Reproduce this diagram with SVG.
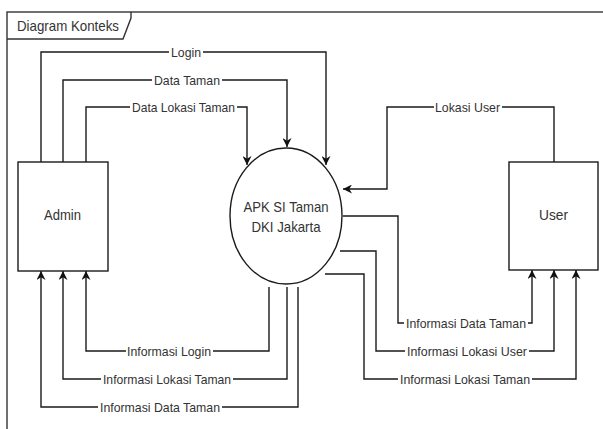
<svg xmlns="http://www.w3.org/2000/svg" width="603" height="429" viewBox="0 0 603 429">
<style>
.ln{fill:none;stroke:#1a1a1a;stroke-width:1.4}
.bx{fill:#fff;stroke:#1a1a1a;stroke-width:1.4}
.t{font-family:"Liberation Sans",Arial,sans-serif;fill:#333;text-anchor:middle}
.lb{font-size:13px}
.nd{font-size:15px}
.bg{fill:#fff}
</style>
<defs>
<marker id="ah" viewBox="0 0 10 10" refX="10" refY="5" markerWidth="10" markerHeight="9" markerUnits="userSpaceOnUse" orient="auto">
<path d="M0,0 L10,5 L0,10 L3,5 Z" fill="#111"/>
</marker>
</defs>
<rect width="603" height="429" fill="#fff"/>
<g id="frame">
<rect x="7" y="12" width="620" height="440" fill="none" stroke="#333" stroke-width="1.4"/>
<polyline points="7,39 123,39 131,18 131,12" fill="none" stroke="#333" stroke-width="1.4"/>
<text class="t nd" x="68" y="30.5" textLength="102" lengthAdjust="spacingAndGlyphs">Diagram Konteks</text>
</g>
<g id="connectors">
<path class="ln" d="M41,162 V52 H326 V165" marker-end="url(#ah)"/>
<path class="ln" d="M63,162 V80 H287 V147" marker-end="url(#ah)"/>
<path class="ln" d="M86,162 V107 H247 V165" marker-end="url(#ah)"/>
<path class="ln" d="M554,162 V107 H387 V189 H343" marker-end="url(#ah)"/>
<path class="ln" d="M343,216 H398 V323 H532 V270" marker-end="url(#ah)"/>
<path class="ln" d="M340,251 H376 V351 H554 V270" marker-end="url(#ah)"/>
<path class="ln" d="M325,274 H364 V379 H576 V270" marker-end="url(#ah)"/>
<path class="ln" d="M269,287 V351 H86 V271" marker-end="url(#ah)"/>
<path class="ln" d="M287,287 V379 H63 V271" marker-end="url(#ah)"/>
<path class="ln" d="M298,287 V407 H41 V271" marker-end="url(#ah)"/>
<g id="labels">
<rect class="bg" x="169" y="45" width="34" height="14"/><text class="t lb" x="186" y="52" dy="0.35em" textLength="30" lengthAdjust="spacingAndGlyphs">Login</text>
<rect class="bg" x="152" y="73" width="70" height="14"/><text class="t lb" x="187" y="80" dy="0.35em" textLength="66" lengthAdjust="spacingAndGlyphs">Data Taman</text>
<rect class="bg" x="130" y="100" width="107" height="14"/><text class="t lb" x="183.5" y="107" dy="0.35em" textLength="103" lengthAdjust="spacingAndGlyphs">Data Lokasi Taman</text>
<rect class="bg" x="434" y="100" width="68" height="14"/><text class="t lb" x="467.5" y="107" dy="0.35em" textLength="65" lengthAdjust="spacingAndGlyphs">Lokasi User</text>
<rect class="bg" x="404" y="316" width="124" height="14"/><text class="t lb" x="466" y="323" dy="0.35em" textLength="120" lengthAdjust="spacingAndGlyphs">Informasi Data Taman</text>
<rect class="bg" x="405" y="344" width="124" height="14"/><text class="t lb" x="467" y="351" dy="0.35em" textLength="120" lengthAdjust="spacingAndGlyphs">Informasi Lokasi User</text>
<rect class="bg" x="398" y="372" width="134" height="14"/><text class="t lb" x="465" y="379" dy="0.35em" textLength="130" lengthAdjust="spacingAndGlyphs">Informasi Lokasi Taman</text>
<rect class="bg" x="126" y="344" width="87" height="14"/><text class="t lb" x="169" y="351" dy="0.35em" textLength="84" lengthAdjust="spacingAndGlyphs">Informasi Login</text>
<rect class="bg" x="101" y="372" width="132" height="14"/><text class="t lb" x="167" y="379" dy="0.35em" textLength="128" lengthAdjust="spacingAndGlyphs">Informasi Lokasi Taman</text>
<rect class="bg" x="98" y="400" width="124" height="14"/><text class="t lb" x="160" y="407" dy="0.35em" textLength="120" lengthAdjust="spacingAndGlyphs">Informasi Data Taman</text>
</g>
</g>
<g id="admin">
<rect class="bx" x="18" y="162" width="90" height="109"/>
<text class="t nd" x="62.5" y="215" dy="0.35em" textLength="37" lengthAdjust="spacingAndGlyphs">Admin</text>
</g>
<g id="user">
<rect class="bx" x="509" y="162" width="89" height="108"/>
<text class="t nd" x="553.5" y="215" dy="0.35em" textLength="29" lengthAdjust="spacingAndGlyphs">User</text>
</g>
<g id="apk">
<ellipse class="bx" cx="286" cy="216" rx="56" ry="68"/>
<text class="t nd" x="286" y="207" dy="0.35em" textLength="85" lengthAdjust="spacingAndGlyphs">APK SI Taman</text>
<text class="t nd" x="286" y="227" dy="0.35em" textLength="69" lengthAdjust="spacingAndGlyphs">DKI Jakarta</text>
</g>
</svg>
